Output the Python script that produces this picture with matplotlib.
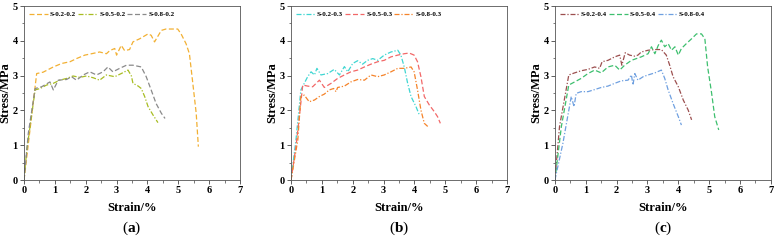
import matplotlib.pyplot as plt
from matplotlib.ticker import MultipleLocator

plt.rcParams['font.family'] = ['Liberation Serif', 'DejaVu Serif']
plt.rcParams['mathtext.fontset'] = 'custom'
plt.rcParams['mathtext.rm'] = 'Liberation Serif'
plt.rcParams['mathtext.bf'] = 'Liberation Serif:bold'

# (a)
a1_x = [0, 0.41, 0.62, 0.95, 1.22, 1.49, 1.7, 1.97, 2.19, 2.45, 2.67, 2.78, 2.94, 3.0, 3.15, 3.26, 3.42, 3.53,
        3.75, 4.02, 4.12, 4.23, 4.45, 4.6, 4.98, 5.09, 5.25, 5.36, 5.47, 5.58, 5.65]
a1_y = [0, 3.06, 3.1, 3.25, 3.35, 3.4, 3.49, 3.59, 3.63, 3.68, 3.63, 3.72, 3.78, 3.59, 3.87, 3.72, 3.75, 3.97,
        4.06, 4.2, 4.16, 3.97, 4.3, 4.34, 4.34, 4.2, 3.92, 3.63, 2.78, 1.92, 0.96]
a2_x = [0, 0.09, 0.36, 0.52, 0.73, 0.95, 1.16, 1.38, 1.59, 1.81, 2.02, 2.24, 2.45, 2.67, 2.94, 3.15, 3.37,
        3.48, 3.53, 3.7, 3.8, 3.91, 4.02, 4.18, 4.34]
a2_y = [0, 0.87, 2.59, 2.63, 2.73, 2.78, 2.87, 2.92, 2.99, 2.95, 2.99, 2.94, 2.87, 3.02, 2.97, 3.06, 3.16,
        2.99, 2.78, 2.7, 2.63, 2.4, 2.11, 1.87, 1.65]
a3_x = [0, 0.14, 0.36, 0.57, 0.84, 0.95, 1.11, 1.38, 1.54, 1.7, 1.92, 2.13, 2.35, 2.56, 2.72, 2.88, 3.1,
        3.32, 3.53, 3.8, 3.96, 4.12, 4.28, 4.45, 4.57]
a3_y = [0, 1.35, 2.63, 2.68, 2.82, 2.59, 2.87, 2.89, 2.97, 2.87, 3.02, 3.11, 3.02, 3.11, 3.25, 3.11, 3.21,
        3.3, 3.3, 3.25, 2.97, 2.59, 2.2, 1.92, 1.77]

# (b)
b1_x = [0, 0.16, 0.32, 0.43, 0.54, 0.65, 0.76, 0.84, 0.97, 1.19, 1.4, 1.57, 1.73, 1.84, 2.0, 2.16, 2.32,
        2.48, 2.65, 2.81, 3.02, 3.24, 3.46, 3.56, 3.67, 3.78, 3.89, 4.05, 4.16]
b1_y = [0, 1.15, 2.59, 2.78, 2.97, 3.11, 3.02, 3.21, 3.02, 3.06, 3.18, 3.02, 3.26, 3.11, 3.35, 3.43, 3.33,
        3.44, 3.49, 3.44, 3.59, 3.68, 3.73, 3.59, 3.25, 2.78, 2.4, 2.11, 1.87]
b2_x = [0, 0.16, 0.27, 0.38, 0.54, 0.7, 0.92, 1.08, 1.3, 1.51, 1.73, 1.94, 2.16, 2.38, 2.59, 2.81, 3.02,
        3.24, 3.46, 3.67, 3.83, 3.99, 4.1, 4.21, 4.32, 4.48, 4.64, 4.75, 4.84]
b2_y = [0, 0.96, 1.82, 2.73, 2.7, 2.68, 2.87, 2.66, 2.78, 2.92, 3.02, 3.11, 3.16, 3.25, 3.33, 3.4, 3.44,
        3.54, 3.59, 3.63, 3.65, 3.59, 3.4, 2.97, 2.4, 2.16, 1.97, 1.82, 1.63]
b3_x = [0, 0.22, 0.32, 0.43, 0.59, 0.76, 0.92, 1.08, 1.24, 1.38, 1.46, 1.51, 1.73, 1.94, 2.16, 2.38, 2.59,
        2.81, 3.02, 3.24, 3.46, 3.67, 3.89, 3.99, 4.1, 4.21, 4.32, 4.43]
b3_y = [0, 1.15, 2.4, 2.44, 2.25, 2.3, 2.4, 2.47, 2.59, 2.63, 2.54, 2.66, 2.7, 2.82, 2.89, 2.87, 3.02,
        2.97, 3.02, 3.11, 3.21, 3.21, 3.25, 3.11, 2.59, 2.01, 1.63, 1.54]

# (c)
c1_x = [0, 0.15, 0.45, 0.64, 0.85, 1.07, 1.29, 1.45, 1.53, 1.72, 1.94, 2.1, 2.17, 2.28, 2.42, 2.59, 2.69,
        2.8, 3.02, 3.24, 3.45, 3.61, 3.72, 3.83, 4.0, 4.16, 4.32, 4.43]
c1_y = [0, 1.54, 3.02, 3.08, 3.14, 3.18, 3.25, 3.21, 3.4, 3.44, 3.54, 3.59, 3.3, 3.66, 3.59, 3.56, 3.59,
        3.68, 3.73, 3.75, 3.75, 3.59, 3.3, 2.97, 2.68, 2.3, 2.01, 1.73]
c2_x = [0, 0.21, 0.45, 0.64, 0.85, 1.07, 1.29, 1.5, 1.72, 1.94, 2.1, 2.26, 2.48, 2.64, 2.8, 3.02, 3.13,
        3.24, 3.35, 3.45, 3.56, 3.67, 3.78, 3.89, 4.0, 4.1, 4.26, 4.43, 4.59, 4.75, 4.86, 4.95, 5.08, 5.18, 5.31]
c2_y = [0, 1.54, 2.73, 2.82, 2.92, 3.06, 3.16, 3.08, 3.25, 3.3, 3.16, 3.3, 3.44, 3.49, 3.54, 3.63, 3.83,
        3.63, 3.87, 4.02, 3.83, 3.92, 3.73, 3.83, 3.59, 3.78, 3.92, 4.06, 4.2, 4.2, 4.06, 3.25, 2.49, 1.82, 1.44]
c3_x = [0, 0.26, 0.53, 0.62, 0.69, 0.85, 1.07, 1.29, 1.5, 1.72, 1.94, 2.15, 2.37, 2.48, 2.53, 2.59, 2.69,
        2.86, 3.02, 3.24, 3.45, 3.56, 3.67, 3.83, 4.0, 4.1]
c3_y = [0, 1.06, 2.4, 2.11, 2.49, 2.54, 2.54, 2.6, 2.66, 2.7, 2.78, 2.85, 2.87, 3.02, 2.73, 3.06, 2.87,
        2.97, 3.02, 3.08, 3.16, 2.92, 2.59, 2.2, 1.82, 1.58]

dash = (0, (4, 2))
dashdot = (0, (4, 1.5, 1, 1.5))
panels = [
    ('a', 0.031, [(a1_x, a1_y, 'S-0.2-0.2', '#f2b033', dash),
                  (a2_x, a2_y, 'S-0.5-0.2', '#a8bd22', dashdot),
                  (a3_x, a3_y, 'S-0.8-0.2', '#8a8a8a', dash)]),
    ('b', 0.3755, [(b1_x, b1_y, 'S-0.2-0.3', '#3fd6d2', dashdot),
                   (b2_x, b2_y, 'S-0.5-0.3', '#f26868', dash),
                   (b3_x, b3_y, 'S-0.8-0.3', '#f5832a', dashdot)]),
    ('c', 0.716, [(c1_x, c1_y, 'S-0.2-0.4', '#9c4f4f', dashdot),
                  (c2_x, c2_y, 'S-0.5-0.4', '#3dbf6e', dash),
                  (c3_x, c3_y, 'S-0.8-0.4', '#6fa0e0', dashdot)]),
]

fig = plt.figure(figsize=(7.75, 2.42), dpi=100)
for tag, left, series in panels:
    ax = fig.add_axes([left, 0.256, 0.2787, 0.719])
    for x, y, lab, col, ls in series:
        ax.plot(x, y, color=col, linestyle=ls, linewidth=0.9, label=lab)
    ax.set_xlim(0, 7)
    ax.set_ylim(0, 5)
    ax.xaxis.set_major_locator(MultipleLocator(1))
    ax.xaxis.set_minor_locator(MultipleLocator(0.5))
    ax.yaxis.set_major_locator(MultipleLocator(1))
    ax.yaxis.set_minor_locator(MultipleLocator(0.5))
    ax.tick_params(which='major', length=3, width=0.6, labelsize=7.5, pad=1.5, color='#444444')
    ax.tick_params(which='minor', length=1.8, width=0.5, color='#444444')
    for lbl in ax.get_xticklabels() + ax.get_yticklabels():
        lbl.set_fontweight('bold')
    for sp in ax.spines.values():
        sp.set_linewidth(0.6)
        sp.set_color('#555555')
    ax.set_xlabel('Strain/%', fontsize=9, fontweight='bold', labelpad=5)
    ax.set_ylabel('Stress/MPa', fontsize=9, fontweight='bold', labelpad=1)
    ax.legend(loc='upper left', ncol=3, frameon=False,
              prop={'weight': 'bold', 'size': 5}, handlelength=2.7, handletextpad=0.3,
              columnspacing=0.3, borderaxespad=0.35)
    ax.text(0.5, -0.275, r'($\mathbf{%s}$)' % tag, transform=ax.transAxes,
            ha='center', va='center', fontsize=11)

fig.savefig('out.png', dpi=100)
